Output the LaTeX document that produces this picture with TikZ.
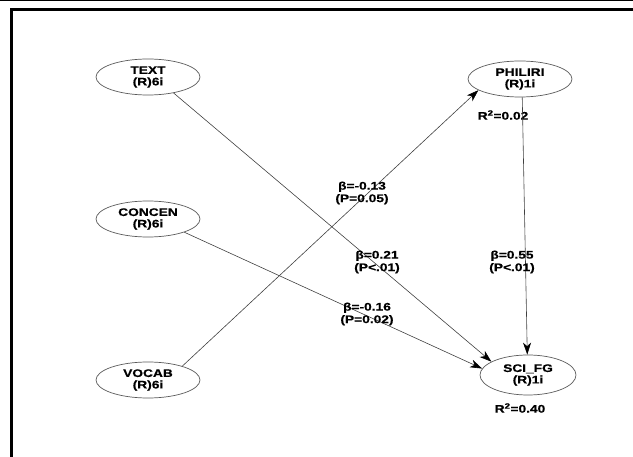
\documentclass[tikz,border=0pt]{standalone}
\usepackage{fontspec}
\setmainfont{Liberation Sans}
\newfontfamily\widesans[FakeStretch=1.25,FakeBold=0.6]{Liberation Sans}
\usetikzlibrary{shapes.geometric,arrows.meta}
\begin{document}
\begin{tikzpicture}[x=1pt,y=-1pt,
  lat/.style={ellipse,draw=black!65,line width=0.7pt,minimum width=104pt,minimum height=36pt,inner sep=0pt,align=center,font=\widesans\fontsize{11}{11.5}\selectfont\bfseries},
  lbl/.style={align=center,inner sep=0pt,font=\widesans\fontsize{11}{12.5}\selectfont\bfseries},
  arr/.style={draw=black!75,line width=0.6pt,-{Stealth[length=12pt,width=8pt,inset=3.5pt,black]}}]
\useasboundingbox (0,0) rectangle (633,457);
\draw[line width=1pt] (0,1) -- (633,1);
\draw[line width=3pt] (11.5,457) -- (11.5,10) -- (633,10);
\node[lat] (text) at (148,77) {TEXT\\(R)6i};
\node[lat] (concen) at (148,219) {CONCEN\\(R)6i};
\node[lat] (vocab) at (148,380) {VOCAB\\(R)6i};
\node[lat] (philiri) at (520,79) {PHILIRI\\(R)1i};
\node[lat,minimum width=96pt,minimum height=40pt] (sci) at (528,375) {SCI\_FG\\(R)1i};
\node[lbl] (r2a) at (503,115) {R\textsuperscript{2}=0.02};
\node[lbl] (r2b) at (520,408) {R\textsuperscript{2}=0.40};
\draw[arr] (text.-32) -- (sci.160);
\draw[arr] (concen.-20) -- (sci.172);
\draw[arr] (vocab.22) -- (philiri.195);
\draw[arr] (philiri.-83) -- (sci.92);
\node[lbl] (l1) at (362,193) {β=-0.13\\(P=0.05)};
\node[lbl] (l2) at (377,262) {β=0.21\\(P<.01)};
\node[lbl] (l3) at (367,314) {β=-0.16\\(P=0.02)};
\node[lbl] (l4) at (512,262) {β=0.55\\(P<.01)};
\end{tikzpicture}
\end{document}
